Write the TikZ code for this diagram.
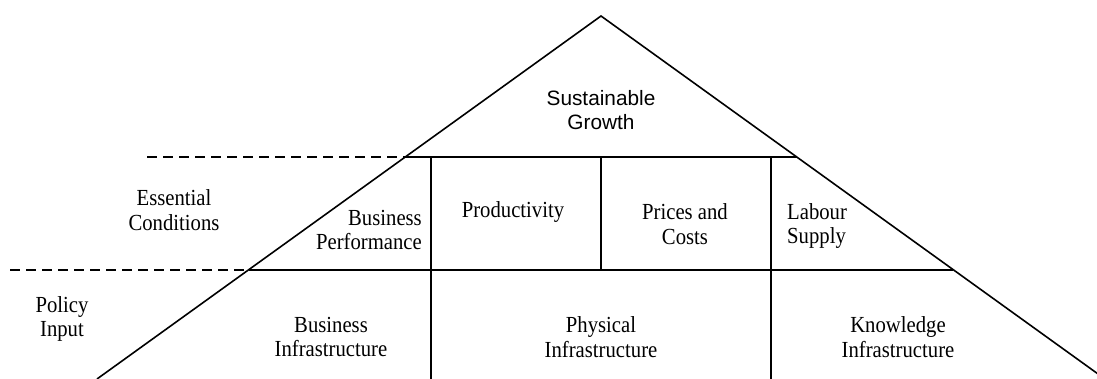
\documentclass[tikz,border=0pt]{standalone}
\usepackage{fontspec}
\setmainfont{Liberation Serif}[FakeStretch=0.9]
\setsansfont{Liberation Sans}
\begin{document}
\begin{tikzpicture}[x=1pt,y=-1pt,
  solidline/.style={line width=1.6pt,line cap=butt},
  dashline/.style={line width=2.4pt,dash pattern=on 10pt off 6pt},
  lbl/.style={inner sep=0pt,align=center,font=\fontsize{23}{24.5}\selectfont},
  toplbl/.style={inner sep=0pt,align=center,font=\sffamily\fontsize{20.8}{24.5}\selectfont}]
\useasboundingbox (0,0) rectangle (1097,379);
% frame points
\coordinate (apex) at (601,16);
\coordinate (l1) at (405,157);
\coordinate (l2) at (249,270);
\coordinate (lb) at (97,379);
\coordinate (r1) at (797,157);
\coordinate (r2) at (953,270);
\coordinate (rb) at (1105,379);
\coordinate (d1) at (147,157);
\coordinate (d2) at (10,270);
\coordinate (v1t) at (431,157);
\coordinate (v1b) at (431,379);
\coordinate (v2t) at (601,157);
\coordinate (v2b) at (601,270);
\coordinate (v3t) at (771,157);
\coordinate (v3b) at (771,379);
% outline
\draw[solidline] (lb) -- (apex) -- (rb);
\draw[solidline] (l1) -- (r1);
\draw[solidline] (l2) -- (r2);
\draw[solidline] (v1t) -- (v1b);
\draw[solidline] (v2t) -- (v2b);
\draw[solidline] (v3t) -- (v3b);
\draw[dashline] (d1) -- (l1);
\draw[dashline] (d2) -- (l2);
% labels
\node[toplbl] (sg) at (601,110) {Sustainable\\Growth};
\node[lbl] (ec) at (174,210) {Essential\\Conditions};
\node[lbl] (pi) at (62,319) {Policy\\Input};
\node[lbl,align=right,anchor=east] (bp) at (422,230) {Business\\Performance};
\node[lbl] (bi) at (331,337) {Business\\Infrastructure};
\node[lbl] (pr) at (513,212) {Productivity};
\node[lbl] (pc) at (685,224) {Prices and\\Costs};
\node[lbl,align=left,anchor=west] (ls) at (787,226) {Labour\\Supply};
\node[lbl] (phi) at (601,337) {Physical\\Infrastructure};
\node[lbl] (ki) at (898,337) {Knowledge\\Infrastructure};
\end{tikzpicture}
\end{document}
